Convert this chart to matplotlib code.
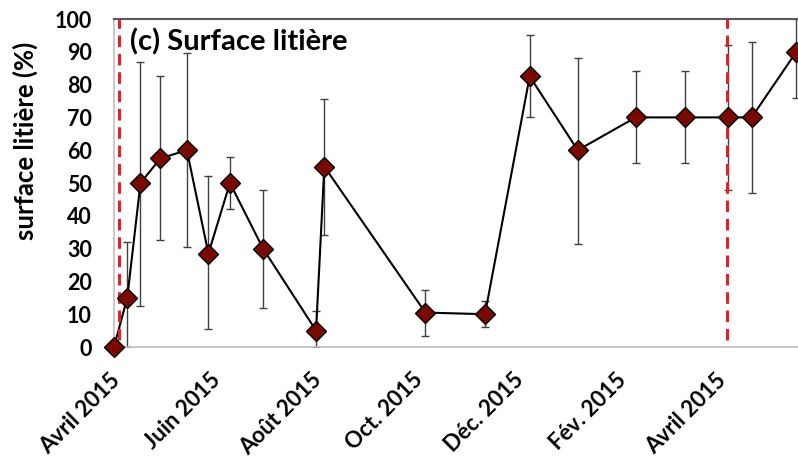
import numpy as np
import pandas as pd
import matplotlib
matplotlib.use("Agg")
import matplotlib.pyplot as plt
from matplotlib.transforms import ScaledTranslation

# sampling dates and litter cover (%) with error bar ends
dates = ["2015-04-01", "2015-04-09", "2015-04-17", "2015-04-29", "2015-05-15",
         "2015-05-28", "2015-06-10", "2015-06-30", "2015-08-01", "2015-08-06",
         "2015-10-06", "2015-11-11", "2015-12-08", "2016-01-06", "2016-02-10",
         "2016-03-11", "2016-04-06", "2016-04-20", "2016-05-17"]
litter = [0, 15, 50, 57.5, 60, 28.5, 50, 30, 5, 55,
          10.5, 10, 82.5, 60, 70, 70, 70, 70, 90]
err_low = [0, 0, 12.5, 32.5, 30.5, 5.5, 42, 12, 0, 34,
           3.5, 6, 70, 31.5, 56, 56, 48, 47, 76]
err_high = [0, 32, 87, 82.5, 89.5, 52, 58, 48, 11, 75.5,
            17.5, 14, 95, 88, 84, 84, 92, 93, 100]

tick_dates = ["2015-04-01", "2015-06-01", "2015-08-01", "2015-10-01",
              "2015-12-01", "2016-02-01", "2016-04-01"]
tick_labels = ["Avril 2015", "Juin 2015", "Août 2015", "Oct. 2015",
               "Déc. 2015", "Fév. 2015", "Avril 2015"]
vline_dates = ["2015-04-04", "2016-04-05"]

x = pd.to_datetime(dates)
y = np.array(litter)
yerr = np.vstack([y - np.array(err_low), np.array(err_high) - y])

plt.rcParams["font.family"] = ["Lato", "DejaVu Sans"]
plt.rcParams["font.weight"] = "bold"

fig = plt.figure(figsize=(7.98, 4.65), dpi=100)
ax = fig.add_axes([114 / 798, 118 / 465, 1 - 114 / 798, 328 / 465])

ax.errorbar(x, y, yerr=yerr, fmt="none", ecolor="#404040", elinewidth=1.0,
            capsize=3, capthick=1.0, zorder=2)
ax.plot(x, y, color="black", lw=1.5, zorder=3)
ax.plot(x, y, ls="none", marker="D", ms=10.5, mfc="#7a0a00", mec="black",
        mew=1.0, zorder=5, clip_on=False)

# red dashed markers
for d in pd.to_datetime(vline_dates):
    ax.axvline(d, ymin=0.02, ymax=1, color="#e0202a", lw=2.2,
               dashes=(3.8, 2.2), zorder=4)

ax.set_xlim(pd.Timestamp("2015-04-01"), pd.Timestamp("2016-05-18"))
ax.set_ylim(0, 100)
ax.set_yticks(np.arange(0, 101, 10))
ax.set_xticks(pd.to_datetime(tick_dates))
ax.set_xticklabels(tick_labels, rotation=45, ha="right", va="top",
                   rotation_mode="anchor", fontsize=16, fontweight="bold")
ax.tick_params(axis="both", length=0)
ax.tick_params(axis="y", pad=16, labelsize=15.5)
ax.tick_params(axis="x", pad=16)
for lab in ax.get_yticklabels():
    lab.set_fontweight("bold")
shift = ScaledTranslation(-5 / 100, 0, fig.dpi_scale_trans)
for lab in ax.get_xticklabels():
    lab.set_transform(lab.get_transform() + shift)

ax.spines["right"].set_visible(False)
ax.spines["top"].set_color("#595959")
ax.spines["top"].set_linewidth(1.5)
ax.spines["left"].set_color("#bfbfbf")
ax.spines["bottom"].set_color("#bfbfbf")
ax.spines["left"].set_linewidth(1.2)
ax.spines["bottom"].set_linewidth(1.2)

ax.text(0.023, 0.93, "(c) Surface litière", transform=ax.transAxes,
        fontsize=21, fontweight="bold", va="center", ha="left")
fig.text(25 / 798, 1 - 141 / 465, "surface litière (%)", rotation=90,
         fontsize=18.5, fontweight="bold", ha="center", va="center")

fig.savefig("out.png", dpi=100)
